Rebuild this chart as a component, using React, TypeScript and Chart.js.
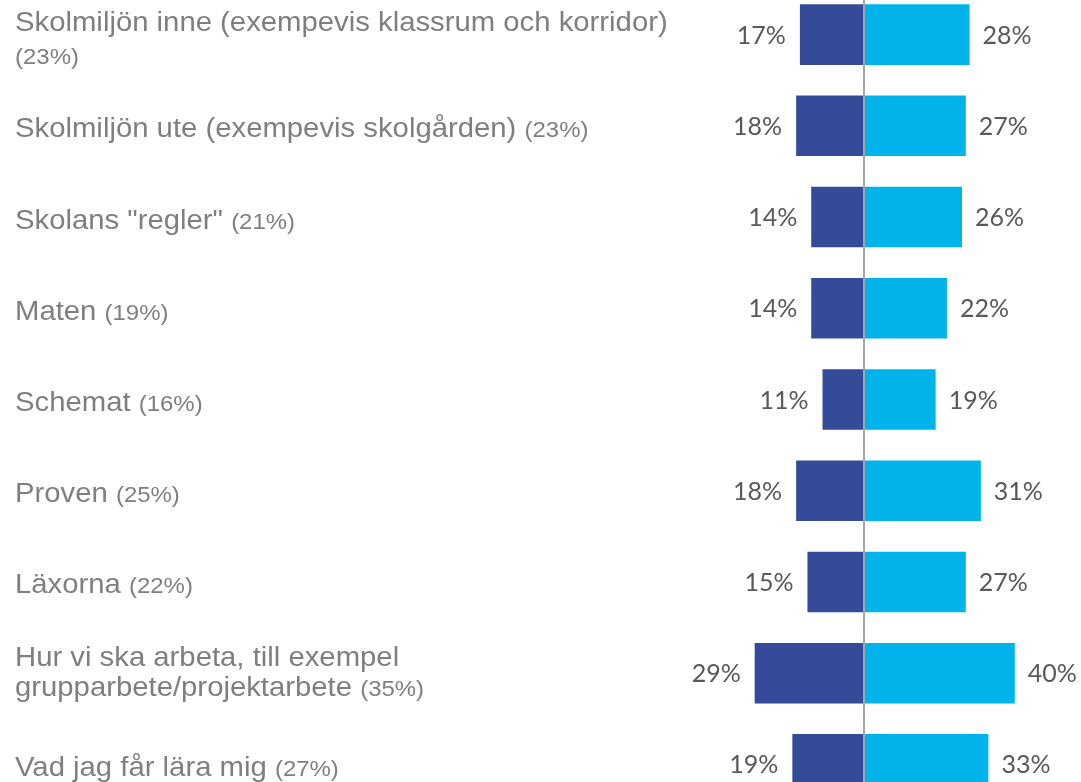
import React, { useEffect, useRef } from "react";
import { Chart, registerables } from "chart.js";

Chart.register(...registerables);

// Category texts (each entry = lines; the share "(xx%)" is appended to the last line)
const categoryLines: string[][] = [
  ["Skolmiljön inne (exempevis klassrum och korridor)", ""],
  ["Skolmiljön ute (exempevis skolgården)"],
  ['Skolans "regler"'],
  ["Maten"],
  ["Schemat"],
  ["Proven"],
  ["Läxorna"],
  ["Hur vi ska arbeta, till exempel", "grupparbete/projektarbete"],
  ["Vad jag får lära mig"],
];
const totalShares = [23, 23, 21, 19, 16, 25, 22, 35, 27];
const leftValues = [17, 18, 14, 14, 11, 18, 15, 29, 19];
const rightValues = [28, 27, 26, 22, 19, 31, 27, 40, 33];

const DARK = "#344B9A";
const LIGHT = "#00B4EB";
const CAT_COLOR = "#7F7F7F";
const VAL_COLOR = "#595959";
const CAT_FONT = '27.5px "Liberation Sans", Arial, sans-serif';
const SHARE_FONT = '22.5px "Liberation Sans", Arial, sans-serif';
const CAT_STRETCH = 1.065;
const VAL_FONT = '25px Lato, "Open Sans", sans-serif';

const labelPlugin = {
  id: "divergingLabels",
  afterDatasetsDraw(chart: any) {
    const ctx = chart.ctx as CanvasRenderingContext2D;
    const xScale = chart.scales.x;
    const yScale = chart.scales.y;
    const area = chart.chartArea;
    const zeroX = xScale.getPixelForValue(0);

    ctx.save();
    // center line
    ctx.strokeStyle = "#A6A6A6";
    ctx.lineWidth = 2;
    ctx.beginPath();
    ctx.moveTo(zeroX, area.top);
    ctx.lineTo(zeroX, area.bottom);
    ctx.stroke();

    // value labels
    ctx.font = VAL_FONT;
    ctx.fillStyle = VAL_COLOR;
    ctx.textBaseline = "middle";
    const leftMeta = chart.getDatasetMeta(0);
    const rightMeta = chart.getDatasetMeta(1);
    leftValues.forEach((v, i) => {
      const el = leftMeta.data[i];
      ctx.textAlign = "right";
      ctx.fillText(v + "%", el.x - 14, el.y + 1);
    });
    rightValues.forEach((v, i) => {
      const el = rightMeta.data[i];
      ctx.textAlign = "left";
      ctx.fillText(v + "%", el.x + 13, el.y + 1);
    });

    // category labels
    ctx.textAlign = "left";
    ctx.textBaseline = "alphabetic";
    ctx.fillStyle = CAT_COLOR;
    const drawStretched = (text: string, x: number, y: number, font: string) => {
      ctx.font = font;
      ctx.save();
      ctx.translate(x, y);
      ctx.scale(CAT_STRETCH, 1);
      ctx.fillText(text, 0, 0);
      ctx.restore();
      return ctx.measureText(text).width * CAT_STRETCH;
    };
    categoryLines.forEach((lines, i) => {
      const cy = yScale.getPixelForValue(i);
      const n = lines.length;
      let baselines: number[];
      if (n === 1) {
        baselines = [cy + 11.5];
      } else if (lines[n - 1] === "") {
        baselines = [cy - 4, cy + 29.5];
      } else {
        baselines = [cy - 7.4, cy + 23.3];
      }
      lines.forEach((line, li) => {
        const by = baselines[li];
        let x = 15;
        if (line) {
          x += drawStretched(line + " ", x, by, CAT_FONT);
        }
        if (li === n - 1) {
          drawStretched("(" + totalShares[i] + "%)", x, by, SHARE_FONT);
        }
      });
    });
    ctx.restore();
  },
};

export default function App() {
  const ref = useRef<HTMLCanvasElement | null>(null);

  useEffect(() => {
    document.body.style.margin = "0";
    document.body.style.overflow = "hidden";
    if (!ref.current) return;
    const pxPerUnit = 3.77;
    const zero = 864;
    const chart = new Chart(ref.current, {
      type: "bar",
      data: {
        labels: categoryLines.map((l) => l.join(" ")),
        datasets: [
          {
            label: "left",
            data: leftValues.map((v) => -v),
            backgroundColor: DARK,
            barPercentage: 0.664,
            categoryPercentage: 1,
          },
          {
            label: "right",
            data: rightValues,
            backgroundColor: LIGHT,
            barPercentage: 0.664,
            categoryPercentage: 1,
          },
        ],
      },
      options: {
        indexAxis: "y",
        responsive: true,
        maintainAspectRatio: false,
        animation: false,
        layout: { padding: 0 },
        plugins: {
          legend: { display: false },
          tooltip: { enabled: false },
        },
        scales: {
          x: {
            type: "linear",
            display: false,
            stacked: true,
            min: -zero / pxPerUnit,
            max: (1081 - zero) / pxPerUnit,
          },
          y: {
            display: false,
            stacked: true,
          },
        },
      },
      plugins: [labelPlugin],
    });
    return () => chart.destroy();
  }, []);

  return (
    <div
      style={{
        position: "fixed",
        left: 0,
        top: -11,
        width: 1081,
        height: 821,
        background: "#ffffff",
      }}
    >
      <canvas ref={ref} />
    </div>
  );
}
